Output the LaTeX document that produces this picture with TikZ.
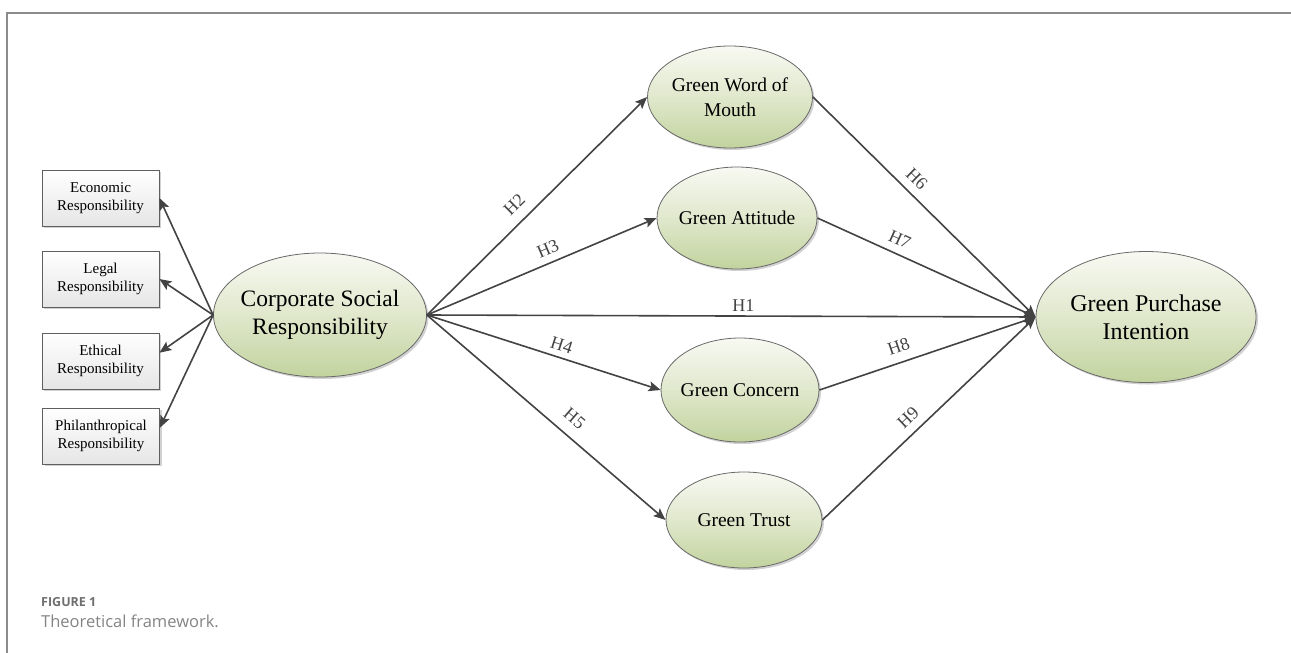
\documentclass[tikz,border=0pt]{standalone}
\usepackage{fontspec}
\setmainfont{Liberation Serif}
\newfontfamily\capfont{Open Sans}
\usetikzlibrary{shapes.geometric,shadows,arrows.meta}
\definecolor{gtop}{HTML}{F8F9F2}
\definecolor{gbot}{HTML}{C2D39E}
\definecolor{arrowgray}{HTML}{434343}
\definecolor{framegray}{HTML}{8C8C8C}
\definecolor{capgray}{HTML}{6E6E6E}
\newcommand{\itemw}{117pt}
\newcommand{\itemh}{56pt}

\begin{document}
\begin{tikzpicture}[x=1pt,y=-1pt,
    construct/.style={ellipse,draw=arrowgray!80,line width=0.8pt,inner ysep=0pt,inner xsep=-12pt,align=center,
      top color=gtop,bottom color=gbot,middle color=gtop!55!gbot,
      drop shadow={shadow xshift=2pt,shadow yshift=-2pt,fill=black!18,opacity=1}},
    item/.style={rectangle,draw=arrowgray!85,line width=0.8pt,align=center,
      minimum width=\itemw,minimum height=\itemh,top color=white,bottom color=black!10,
      font=\fontsize{15}{18}\selectfont,
      drop shadow={shadow xshift=2pt,shadow yshift=-2pt,fill=black!18,opacity=1}},
    hyp/.style={-{Stealth[length=12pt,width=10pt,inset=2.5pt]},arrowgray,line width=1.6pt},
    hlabel/.style={sloped,above=3pt,inner sep=1pt,font=\fontsize{18}{18}\selectfont}]
  \useasboundingbox (0,0) rectangle (1291,653);

  \draw[framegray,line width=1.3pt] (7,653) -- (7,13) -- (1291,13);

  \node[item] (eco)  at (100.5,198) {Economic\\Responsibility};
  \node[item] (leg)  at (100.5,279) {Legal\\Responsibility};
  \node[item] (eth)  at (100.5,361) {Ethical\\Responsibility};
  \node[item] (phil) at (101,436)   {Philanthropical\\Responsibility};

  \node[construct,minimum width=213pt,minimum height=124pt,font=\fontsize{23.5}{28}\selectfont] (csr) at (320,315) {Corporate Social\\Responsibility};
  \node[construct,minimum width=165pt,minimum height=102pt,font=\fontsize{19.5}{25}\selectfont] (wom) at (730,97) {Green Word of\\Mouth};
  \node[construct,minimum width=160pt,minimum height=102pt,font=\fontsize{19.5}{22}\selectfont] (att) at (737,218) {Green Attitude};
  \node[construct,minimum width=158pt,minimum height=104pt,font=\fontsize{19.5}{22}\selectfont] (con) at (740,390) {Green Concern};
  \node[construct,minimum width=156pt,minimum height=96pt,font=\fontsize{19.5}{22}\selectfont] (tru) at (744,520) {Green Trust};
  \node[construct,minimum width=220pt,minimum height=131pt,font=\fontsize{24}{28}\selectfont] (gpi) at (1146,317) {Green Purchase\\Intention};

  \draw[hyp] (csr.west) -- (eco.east);
  \draw[hyp] (csr.west) -- (leg.east);
  \draw[hyp] (csr.west) -- (eth.8);
  \draw[hyp] (csr.west) -- (phil.8);

  \draw[hyp] (csr.east) -- (wom.west) node[hlabel,pos=0.45,above=6pt] {H2};
  \draw[hyp] (csr.east) -- (att.west) node[hlabel,pos=0.55,above=3pt] {H3};
  \draw[hyp] (csr.east) -- (gpi.west) node[hlabel,pos=0.52,above=0pt] {H1};
  \draw[hyp] (csr.east) -- (con.west) node[hlabel,pos=0.56,above=2pt] {H4};
  \draw[hyp] (csr.east) -- (tru.west) node[hlabel,pos=0.57,above=7pt] {H5};

  \draw[hyp] (wom.east) -- (gpi.west) node[hlabel,pos=0.42,above=4pt] {H6};
  \draw[hyp] (att.east) -- (gpi.west) node[hlabel,pos=0.35,above=4pt] {H7};
  \draw[hyp] (con.east) -- (gpi.west) node[hlabel,pos=0.39,above=5pt] {H8};
  \draw[hyp] (tru.east) -- (gpi.west) node[hlabel,pos=0.45,above=4pt] {H9};

  \node[anchor=base west,inner sep=0pt,text=capgray,font=\capfont\bfseries\fontsize{12.5}{14}\selectfont] (fig) at (41,606) {FIGURE 1};
  \node[anchor=base west,inner sep=0pt,text=capgray!85,font=\capfont\fontsize{16.5}{18}\selectfont] (cap) at (41,627) {Theoretical framework.};

\end{tikzpicture}
\end{document}
